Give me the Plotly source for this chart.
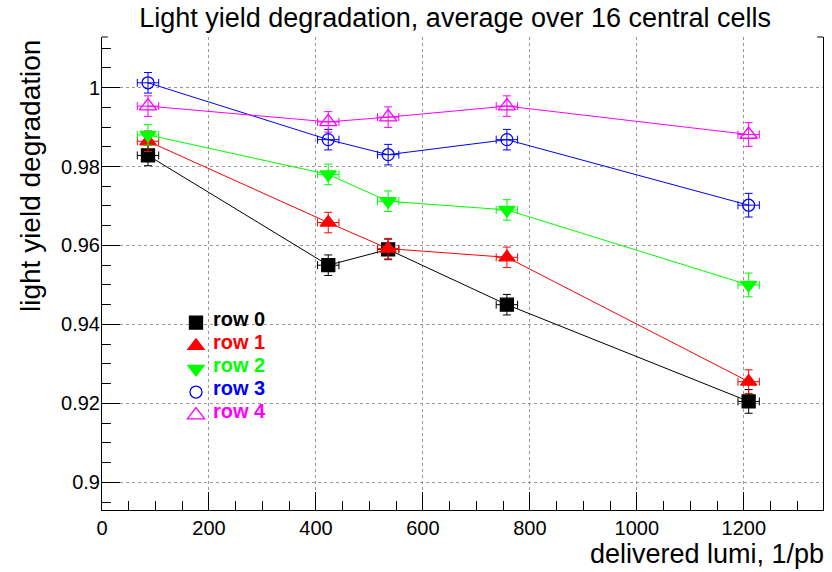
import plotly.graph_objects as go

# ---- data ----
lumi = [86, 423, 535, 757, 1209]
lumi_err = [20, 20, 20, 20, 20]

row0 = [0.9828, 0.9550, 0.9590, 0.9450, 0.9205]
row1 = [0.9864, 0.9658, 0.9592, 0.9570, 0.9255]
row2 = [0.9880, 0.9780, 0.9712, 0.9690, 0.9500]
row3 = [1.0012, 0.9868, 0.9830, 0.9868, 0.9702]
row4 = [0.9953, 0.9913, 0.9925, 0.9953, 0.9881]
yerr = [0.0026, 0.0026, 0.0026, 0.0026, 0.0030]

series_names = ["row 0", "row 1", "row 2", "row 3", "row 4"]
x_ticks = [0, 200, 400, 600, 800, 1000, 1200]
y_ticks = [0.9, 0.92, 0.94, 0.96, 0.98, 1.0]
y_tick_text = ["0.9", "0.92", "0.94", "0.96", "0.98", "1"]

FONT = "Liberation Sans, Arial, Helvetica, sans-serif"

styles = [
    dict(color="#000000", symbol="square", size=13),
    dict(color="#ff0000", symbol="triangle-up", size=14),
    dict(color="#00ff00", symbol="triangle-down", size=14),
    dict(color="#0000ff", symbol="circle-open", size=12),
    dict(color="#ff00ff", symbol="triangle-up-open", size=15),
]
data = [row0, row1, row2, row3, row4]

fig = go.Figure()
for name, ys, st in zip(series_names, data, styles):
    fig.add_trace(go.Scatter(
        x=lumi, y=ys, mode="lines+markers", showlegend=False,
        line=dict(color=st["color"], width=1),
        marker=dict(symbol=st["symbol"], size=st["size"], color=st["color"],
                    line=dict(color=st["color"], width=1.3)),
        error_x=dict(type="data", array=lumi_err, color=st["color"], thickness=1, width=4),
        error_y=dict(type="data", array=yerr, color=st["color"], thickness=1, width=4),
    ))

# legend symbols (markers only); labels drawn as annotations
for name, st in zip(series_names, styles):
    fig.add_trace(go.Scatter(
        x=[None], y=[None], mode="markers", name=" ",
        marker=dict(symbol=st["symbol"], size=st["size"], color=st["color"],
                    line=dict(color=st["color"], width=1.3)),
    ))

# legend label positions (pixel rows of the legend box)
legend_left_px = 211
legend_rows_px = [319, 342, 365, 388, 411]
plot_l, plot_r, plot_t, plot_b = 102, 823, 37, 510
pw, ph = plot_r - plot_l, plot_b - plot_t

annotations = [
    dict(text="delivered lumi, 1/pb", xref="paper", yref="paper",
         x=1.004, y=(plot_b - 554) / ph, xanchor="right", yanchor="middle", showarrow=False,
         font=dict(size=27, family=FONT, color="black")),
    dict(text="light yield degradation", xref="paper", yref="paper",
         x=(30 - plot_l) / pw, y=(plot_b - 176) / ph, xanchor="center", yanchor="middle",
         textangle=-90, showarrow=False, font=dict(size=28, family=FONT, color="black")),
]
for name, st, ry in zip(series_names, styles, legend_rows_px):
    annotations.append(dict(
        text=f"<b>{name}</b>", xref="paper", yref="paper",
        x=(legend_left_px - plot_l) / pw, y=(plot_b - ry) / ph,
        xanchor="left", yanchor="middle", showarrow=False,
        font=dict(size=20, family=FONT, color=st["color"])))

fig.update_layout(
    width=832, height=572,
    margin=dict(l=plot_l, r=832 - plot_r, t=plot_t, b=572 - plot_b),
    paper_bgcolor="white", plot_bgcolor="white",
    font=dict(family=FONT, color="black"),
    title=dict(text="Light yield degradation, average over 16 central cells",
               x=0.547, xanchor="center", y=0.970, yanchor="middle",
               font=dict(size=27, family=FONT, color="black")),
    legend=dict(x=(176 - plot_l) / pw, y=(plot_b - 306) / ph, xanchor="left", yanchor="top",
                bgcolor="rgba(0,0,0,0)", borderwidth=0,
                font=dict(size=15.5, family=FONT), tracegroupgap=0),
    xaxis=dict(range=[0, 1348], tickvals=x_ticks, ticks="inside", ticklen=18,
               tickcolor="black", tickwidth=1, showline=True, linecolor="black",
               linewidth=1, mirror=False, zeroline=False,
               showgrid=True, gridcolor="#999999", griddash="dot", gridwidth=1,
               minor=dict(ticks="inside", ticklen=9, dtick=50, tick0=0,
                          tickcolor="black", showgrid=False),
               tickfont=dict(size=20, family=FONT, color="black")),
    yaxis=dict(range=[0.8930, 1.0128], tickvals=y_ticks, ticktext=y_tick_text,
               ticks="inside", ticklen=18, tickcolor="black", tickwidth=1,
               showline=True, linecolor="black", linewidth=1, mirror=True,
               zeroline=False, showgrid=True, gridcolor="#999999", griddash="dot",
               gridwidth=1, ticklabelstandoff=-3,
               minor=dict(ticks="inside", ticklen=9, dtick=0.005, tick0=0.9,
                          tickcolor="black", showgrid=False),
               tickfont=dict(size=20, family=FONT, color="black")),
    annotations=annotations,
    shapes=[
        dict(type="line", xref="paper", yref="paper", x0=0, x1=0.008, y0=1, y1=1,
             line=dict(color="black", width=1)),
        dict(type="line", xref="paper", yref="paper", x0=0.992, x1=1, y0=1, y1=1,
             line=dict(color="black", width=1)),
    ],
)

fig.write_html("out.html")
